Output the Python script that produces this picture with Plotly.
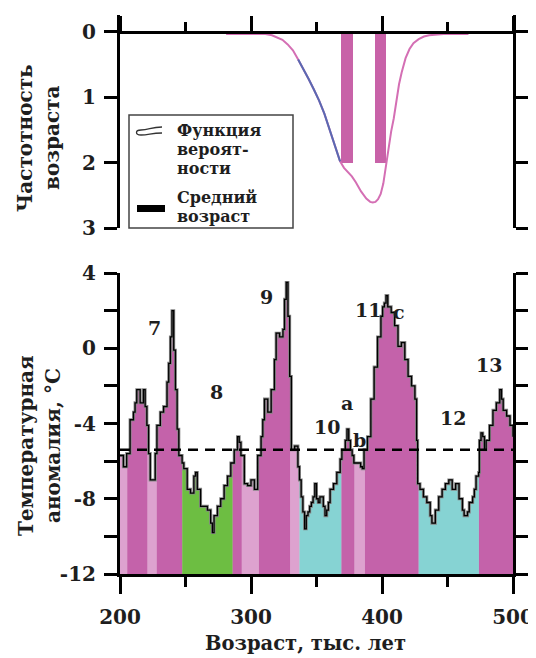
import numpy as np
import plotly.graph_objects as go

# ---------------- data ----------------
# Age-probability function (top panel)
pdf_age = [281, 300, 311, 316, 320, 324, 328, 332, 336, 340, 344, 348, 352, 356, 360,
           364, 368, 371, 374, 377, 380, 384, 388, 391, 393, 395, 397, 399, 401, 403,
           405, 407, 409, 411, 413, 415, 418, 421, 424, 428, 432, 436, 441, 447, 455, 466]
pdf_freq = [0.03, 0.03, 0.03, 0.05, 0.08, 0.12, 0.19, 0.28, 0.42, 0.56, 0.72, 0.88, 1.05, 1.25, 1.50,
            1.75, 1.98, 2.08, 2.14, 2.21, 2.30, 2.44, 2.55, 2.60, 2.61, 2.60, 2.56, 2.48, 2.32, 2.05,
            1.75, 1.52, 1.32, 1.05, 0.80, 0.62, 0.40, 0.26, 0.17, 0.11, 0.07, 0.05, 0.04, 0.03, 0.03, 0.03]
blue_from, blue_to = 336, 368
mean_age = [373.4, 398.8]
mean_freq = [2, 2]

# Temperature anomaly (bottom panel)
temp_age = [200.0, 202.6, 205.1, 207.7, 210.3, 211.5, 212.8, 215.4, 217.9, 219.2, 220.5, 221.8,
            223.1, 225.6, 226.9, 228.2, 230.8, 233.3, 235.9, 237.2, 238.5, 239.7, 241.0, 242.3,
            243.6, 244.9, 247.4, 248.7, 251.3, 253.8, 256.4, 257.7, 259.0, 261.5, 264.1, 266.7,
            269.2, 270.5, 271.8, 274.4, 276.9, 279.5, 282.1, 284.6, 287.2, 289.7, 291.0, 292.3,
            294.9, 297.4, 300.0, 302.6, 305.1, 307.7, 309.0, 310.3, 312.8, 315.4, 317.9, 319.2,
            321.8, 324.4, 325.6, 326.9, 328.2, 329.5, 330.8, 333.3, 335.8, 337.0, 338.3, 339.6,
            340.9, 342.2, 343.5, 344.8, 346.1, 347.4, 348.7, 350.0, 351.3, 352.6, 355.2, 356.5,
            357.8, 359.1, 360.4, 363.0, 365.5, 368.1, 369.4, 372.0, 373.3, 374.6, 375.9, 377.2,
            378.5, 381.1, 383.7, 385.0, 386.3, 387.6, 388.9, 391.5, 394.0, 396.6, 399.2, 400.5,
            401.8, 403.1, 404.4, 407.0, 409.6, 412.2, 414.8, 417.4, 419.9, 422.5, 425.1, 426.4,
            427.2, 429.0, 431.6, 434.2, 436.8, 438.1, 440.7, 443.3, 445.9, 448.4, 451.0, 453.6,
            456.2, 458.8, 461.4, 462.7, 465.3, 466.6, 469.2, 470.5, 471.8, 473.8, 474.4, 475.6,
            476.9, 478.2, 479.5, 482.1, 484.7, 487.3, 489.9, 491.2, 492.5, 495.1, 497.7, 500.0]
temp_val = [-5.7, -6.3, -5.6, -3.8, -3.4, -2.9, -2.2, -2.9, -2.2, -3.1, -4.1, -5.6,
            -7.0, -7.0, -5.6, -4.1, -3.4, -3.1, -1.8, -0.8, 0.6, 2.0, -0.1, -2.2,
            -4.3, -5.7, -6.1, -6.4, -7.5, -7.7, -6.8, -6.6, -7.5, -8.4, -8.4, -8.6,
            -9.3, -9.8, -8.9, -8.4, -8.0, -7.3, -6.8, -6.1, -5.4, -4.7, -5.0, -5.7,
            -7.2, -7.3, -7.0, -7.5, -5.7, -4.7, -3.8, -2.7, -3.4, -2.2, -0.6, 0.8,
            0.6, 1.0, 2.6, 3.5, 1.7, -1.5, -5.4, -5.2, -6.3, -7.0, -7.9, -8.7,
            -9.6, -8.9, -8.7, -8.4, -8.2, -7.9, -7.2, -8.0, -8.2, -7.9, -8.4, -8.9,
            -8.6, -8.2, -7.5, -7.2, -6.6, -5.9, -5.4, -4.9, -4.3, -4.9, -5.4, -5.7,
            -6.1, -6.1, -6.3, -6.4, -5.4, -5.4, -4.7, -2.7, -1.0, 0.6, 1.7, 2.2,
            2.4, 2.8, 2.2, 1.9, 1.2, 0.1, 0.3, -0.6, -1.5, -2.0, -2.7, -4.9,
            -7.2, -7.5, -7.9, -8.2, -8.9, -9.3, -8.6, -7.9, -7.5, -7.2, -7.0, -7.5,
            -7.2, -8.0, -8.6, -8.9, -8.7, -8.2, -7.9, -7.5, -6.8, -6.6, -4.9, -4.5,
            -4.7, -5.4, -4.9, -4.1, -3.3, -2.9, -2.2, -2.7, -3.3, -3.6, -4.1, -4.7]
mean_temp = -5.4

band_start = [200, 205.5, 221, 228, 247.5, 286, 293, 306, 330, 337, 369, 379, 387, 428, 474]
band_end = [205.5, 221, 228, 247.5, 286, 293, 306, 330, 337, 369, 379, 387, 428, 474, 500]
band_kind = ["light", "mag", "light", "mag", "green", "mag", "light", "mag", "light",
             "cyan", "mag", "light", "mag", "cyan", "mag"]

stage_text = ["7", "8", "9", "10", "a", "b", "11", "c", "12", "13"]
stage_age = [226, 274, 311.5, 358, 373.3, 383, 389, 413, 454, 482]
stage_temp = [1.1, -2.3, 2.7, -4.2, -2.9, -4.9, 2.05, 1.95, -3.7, -0.9]

x_range = [200, 500]
y_top_range = [3, -0.26]
y_bot_range = [-12, 4]
y_top_ticks = [0, 1, 2, 3]
y_bot_ticks = [-12, -8, -4, 0, 4]
y_bot_ticktext = ["-12", "-8", "-4", "0", "4"]

# ---------------- styling ----------------
OFF = 8  # page body margin
W, H = 536 - OFF, 658 - OFF
ML, MT = 120 - OFF, 15 - OFF
PW, PH = 393, 559
MR, MB = W - ML - PW, H - MT - PH
FONT = "DejaVu Serif"
band_color = {"mag": "#C462AA", "light": "#DDA2CF", "green": "#6DBE42", "cyan": "#86D3D3"}
PINK = "#D46FB4"
BLUE = "#5A6AB2"
INK = "#1e1e1e"


def px(xs):
    """screen x pixel -> paper fraction"""
    return (xs - OFF - ML) / PW


def py(ys):
    """screen y pixel -> paper fraction"""
    return (MT + PH - (ys - OFF)) / PH


fig = go.Figure()

# ---- top panel ----
fig.add_trace(go.Scatter(x=pdf_age, y=pdf_freq, mode="lines",
                         line=dict(color=PINK, width=2), xaxis="x", yaxis="y", hoverinfo="skip"))
pa = np.array(pdf_age)
pf = np.array(pdf_freq)
sel = (pa >= blue_from) & (pa <= blue_to)
fig.add_trace(go.Scatter(x=pa[sel], y=pf[sel], mode="lines",
                         line=dict(color=BLUE, width=2), xaxis="x", yaxis="y", hoverinfo="skip"))
fig.add_trace(go.Bar(x=mean_age, y=mean_freq, base=0, width=8.7,
                     marker=dict(color="#C862A8", line=dict(width=0)),
                     xaxis="x", yaxis="y", hoverinfo="skip"))

# ---- bottom panel ----
ta = np.array(temp_age)
tv = np.array(temp_val)


def step_val(a):
    i = int(np.searchsorted(ta, a, side="right")) - 1
    return float(tv[max(i, 0)])


for s, e, k in zip(band_start, band_end, band_kind):
    inside = (ta > s) & (ta < e)
    xs = [s] + list(ta[inside]) + [e, e, s]
    ys = [step_val(s)] + list(tv[inside]) + [step_val(e), y_bot_range[0], y_bot_range[0]]
    fig.add_trace(go.Scatter(x=xs, y=ys, fill="toself", fillcolor=band_color[k], mode="lines",
                             line=dict(color=band_color[k], width=0.6, shape="hv"),
                             xaxis="x2", yaxis="y2", hoverinfo="skip"))

fig.add_trace(go.Scatter(x=temp_age, y=temp_val, mode="lines",
                         line=dict(color="#858585", width=3, shape="hv"),
                         xaxis="x2", yaxis="y2", hoverinfo="skip"))
fig.add_trace(go.Scatter(x=temp_age, y=temp_val, mode="lines",
                         line=dict(color="black", width=1.3, shape="hv"),
                         xaxis="x2", yaxis="y2", hoverinfo="skip"))
fig.add_trace(go.Scatter(x=x_range, y=[mean_temp, mean_temp], mode="lines",
                         line=dict(color="black", width=2.5, dash="10px,7px"),
                         xaxis="x2", yaxis="y2", hoverinfo="skip"))

annotations = []
for t, a, v in zip(stage_text, stage_age, stage_temp):
    annotations.append(dict(x=a, y=v, xref="x2", yref="y2", text=t, showarrow=False,
                            font=dict(family=FONT, size=19, color=INK, weight="bold")))

# legend in top panel
shapes = [dict(type="rect", xref="paper", yref="paper", x0=px(129), x1=px(293), y0=py(228), y1=py(115),
               line=dict(color="#444", width=1.5), fillcolor="white", layer="above")]
glyph = (f"M {px(162)},{py(127)} C {px(151)},{py(127)} {px(149)},{py(130)} {px(141)},{py(130)} "
         f"C {px(135)},{py(130)} {px(135)},{py(135)} {px(141)},{py(135)} "
         f"C {px(149)},{py(135)} {px(151)},{py(133)} {px(162)},{py(133)}")
shapes.append(dict(type="path", xref="paper", yref="paper", path=glyph,
                   line=dict(color="#333", width=1.3), layer="above"))
shapes.append(dict(type="rect", xref="paper", yref="paper", x0=px(137), x1=px(165), y0=py(212), y1=py(205),
                   line=dict(width=0), fillcolor="black", layer="above"))
leg_lines = [("Функция", 130), ("вероят-", 149), ("ности", 168), ("Средний", 197), ("возраст", 216)]
for txt, yy in leg_lines:
    annotations.append(dict(x=px(175), y=py(yy), xref="paper", yref="paper", text=txt, showarrow=False,
                            xanchor="left", yanchor="middle",
                            font=dict(family=FONT, size=16, color=INK, weight="bold")))

# axis titles
for txt, xx, yy in [("Частотность", 25, 138), ("возраста", 52, 138),
                    ("Температурная", 26, 446), ("аномалия, °C", 53, 446)]:
    annotations.append(dict(x=px(xx), y=py(yy), xref="paper", yref="paper", text=txt, showarrow=False,
                            textangle=-90, xanchor="center", yanchor="middle",
                            font=dict(family=FONT, size=20, color=INK, weight="bold")))
annotations.append(dict(x=px(305), y=py(643), xref="paper", yref="paper", text="Возраст, тыс. лет",
                        showarrow=False, xanchor="center", yanchor="middle",
                        font=dict(family=FONT, size=19.5, color=INK, weight="bold")))

top_dom = [py(228), 1.0]
bot_dom = [0.0, py(273)]
tickfont = dict(family=FONT, size=20, color=INK, weight="bold")

fig.update_layout(
    width=W, height=H, margin=dict(l=ML, r=MR, t=MT, b=MB, autoexpand=False),
    plot_bgcolor="white", paper_bgcolor="white", showlegend=False, bargap=0,
    font=dict(family=FONT, size=19, color=INK, weight="bold"),
    xaxis=dict(domain=[0, 1], range=x_range, anchor="free", position=py(32), side="top",
               automargin=False,
               showline=True, linewidth=3, linecolor="black", ticks="outside",
               tickmode="linear", tick0=200, dtick=100, ticklen=15, tickwidth=2.5, tickcolor="black",
               minor=dict(ticks="outside", tickmode="linear", tick0=200, dtick=50, ticklen=9,
                          tickwidth=2.5, tickcolor="black"),
               showticklabels=False, showgrid=False, zeroline=False),
    yaxis=dict(domain=top_dom, range=y_top_range, anchor="x", automargin=False,
               showline=True, linewidth=3,
               linecolor="black", mirror="ticks", ticks="outside", tickvals=y_top_ticks,
               ticklen=13, tickwidth=3, tickcolor="black", tickfont=tickfont, ticklabelstandoff=4,
               showgrid=False, zeroline=False),
    xaxis2=dict(domain=[0, 1], range=x_range, anchor="y2", automargin=False,
                showline=True, linewidth=3,
                linecolor="black", ticks="outside", tickmode="linear", tick0=200, dtick=100,
                ticklen=17, tickwidth=3, tickcolor="black", tickfont=tickfont, ticklabelstandoff=6,
                minor=dict(ticks="outside", tickmode="linear", tick0=200, dtick=50, ticklen=10,
                           tickwidth=2.5, tickcolor="black"),
                showgrid=False, zeroline=False),
    yaxis2=dict(domain=bot_dom, range=y_bot_range, anchor="x2", automargin=False,
                showline=True, linewidth=3,
                linecolor="black", mirror="ticks", ticks="outside",
                tickvals=y_bot_ticks, ticktext=y_bot_ticktext,
                ticklen=13, tickwidth=3, tickcolor="black", tickfont=tickfont, ticklabelstandoff=4,
                minor=dict(ticks="outside", tickmode="linear", tick0=-12, dtick=2, ticklen=13,
                           tickwidth=2.5, tickcolor="black"),
                showgrid=False, zeroline=False),
    shapes=shapes, annotations=annotations,
)

fig.write_html("out.html")
